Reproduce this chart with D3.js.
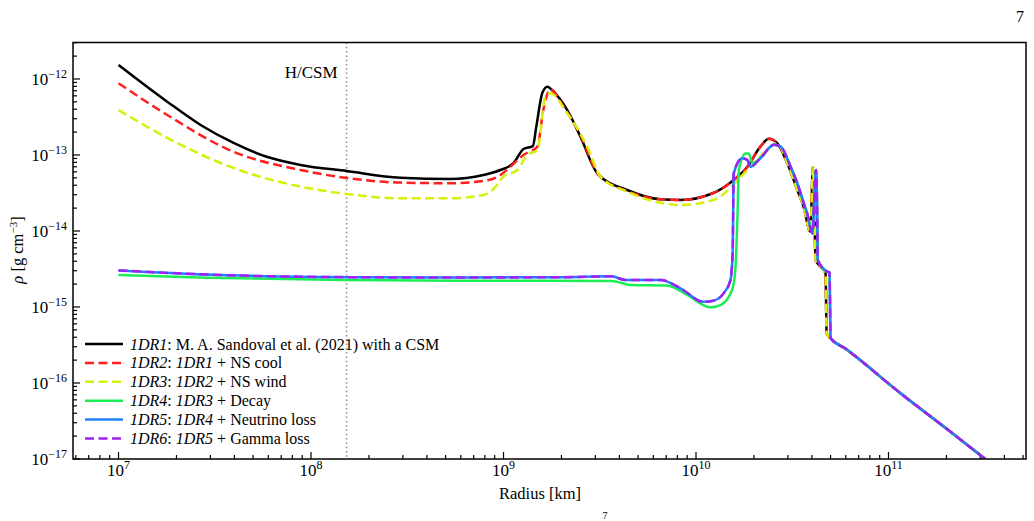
<!DOCTYPE html>
<html>
<head>
<meta charset="utf-8">
<script src="https://cdn.jsdelivr.net/npm/d3@7"></script>
<style>
body { margin: 0; background: #fff; }
svg { display: block; font-family: "Liberation Serif", "DejaVu Serif", serif; }
</style>
</head>
<body>
<div class="container"></div>
<script>
// radius [km], density [g cm^-3]
var r1 = [[1.0e7,1.53e-12],[1.79e7,5.03e-13],[2.67e7,2.48e-13],[3.96e7,1.44e-13],[5.94e7,9.4e-14],[8.82e7,7.4e-14],[1.53e8,6.15e-14],[2.92e8,5.02e-14],[5.31e8,4.83e-14],[7.87e8,5.46e-14],[9.64e8,6.35e-14],[1.13e9,7.85e-14],[1.27e9,1.2e-13],[1.42e9,1.31e-13],[1.48e9,2.35e-13],[1.59e9,6.55e-13],[1.69e9,7.92e-13],[1.82e9,6.8e-13],[2.14e9,3.91e-13],[2.51e9,1.74e-13],[3.07e9,5.74e-14],[4.39e9,3.46e-14],[6.54e9,2.61e-14],[8.3e9,2.56e-14],[1.23e10,3.16e-14],[1.57e10,4.69e-14],[1.85e10,7.02e-14],[2.16e10,1.29e-13],[2.39e10,1.63e-13],[2.64e10,1.43e-13],[2.98e10,7.79e-14],[3.36e10,3.46e-14],[3.62e10,2.09e-14],[3.93e10,9.8e-15],[4.05e10,6.95e-14],[4.13e10,1.4e-14],[4.18e10,4.15e-15],[4.44e10,3.39e-15],[4.71e10,2.77e-15],[4.77e10,4.51e-16],[5.0e10,3.87e-16],[5.94e10,2.86e-16],[1.15e11,7.38e-17],[2.09e11,2.30e-17],[3.18e11,1.0e-17]];

var r2 = [[1.0e7,8.78e-13],[1.79e7,3.36e-13],[3.96e7,1.10e-13],[8.82e7,6.35e-14],[1.53e8,4.98e-14],[2.92e8,4.33e-14],[5.31e8,4.25e-14],[7.87e8,4.55e-14],[9.64e8,5.46e-14],[1.04e9,6.35e-14],[1.27e9,1.0e-13],[1.50e9,1.29e-13],[1.61e9,3.91e-13],[1.75e9,7.31e-13],[2.05e9,4.33e-13],[2.51e9,1.83e-13],[3.12e9,5.46e-14],[4.39e9,3.36e-14],[6.54e9,2.61e-14],[8.3e9,2.56e-14],[1.23e10,3.16e-14],[1.57e10,4.69e-14],[1.85e10,7.02e-14],[2.16e10,1.29e-13],[2.39e10,1.63e-13],[2.64e10,1.43e-13],[2.98e10,7.79e-14],[3.36e10,3.46e-14],[3.62e10,2.09e-14],[3.93e10,9.8e-15],[4.05e10,6.95e-14],[4.13e10,1.4e-14],[4.18e10,4.15e-15],[4.44e10,3.39e-15],[4.71e10,2.77e-15],[4.77e10,4.51e-16],[5.0e10,3.87e-16],[5.94e10,2.86e-16],[1.15e11,7.38e-17],[2.09e11,2.30e-17],[3.18e11,1.0e-17]];

var r3 = [[1.0e7,3.91e-13],[1.79e7,1.68e-13],[3.96e7,6.74e-14],[8.82e7,3.83e-14],[1.53e8,3.07e-14],[2.92e8,2.69e-14],[5.31e8,2.69e-14],[7.87e8,2.98e-14],[8.9e8,3.6e-14],[1.0e9,5.2e-14],[1.18e9,6.35e-14],[1.33e9,1.0e-13],[1.50e9,1.16e-13],[1.65e9,5.85e-13],[1.75e9,6.48e-13],[2.14e9,3.57e-13],[2.72e9,1.29e-13],[3.19e9,5.18e-14],[4.39e9,3.29e-14],[6.54e9,2.35e-14],[8.3e9,2.2e-14],[1.23e10,2.56e-14],[1.85e10,6.35e-14],[2.34e10,1.16e-13],[2.64e10,1.43e-13],[2.98e10,7.79e-14],[3.36e10,3.46e-14],[3.62e10,2.09e-14],[3.93e10,9.8e-15],[4.05e10,6.95e-14],[4.13e10,1.4e-14],[4.18e10,4.15e-15],[4.44e10,3.39e-15],[4.71e10,2.77e-15],[4.77e10,4.51e-16],[5.0e10,3.87e-16],[5.94e10,2.86e-16],[1.15e11,7.38e-17],[2.09e11,2.30e-17],[3.18e11,1.0e-17]];

var r4 = [[1.0e7,2.64e-15],[2.90e7,2.43e-15],[1.53e8,2.27e-15],[5.77e8,2.22e-15],[3.64e9,2.2e-15],[4.6e9,1.95e-15],[7.08e9,1.92e-15],[8.99e9,1.44e-15],[1.19e10,9.9e-16],[1.34e10,1.06e-15],[1.54e10,1.67e-15],[1.60e10,3.07e-15],[1.64e10,1.4e-14],[1.67e10,6.35e-14],[1.81e10,1.05e-13],[1.88e10,1.05e-13],[1.96e10,7.79e-14],[2.16e10,9.06e-14],[2.54e10,1.36e-13],[2.75e10,1.29e-13],[3.10e10,7.02e-14],[3.36e10,4.25e-14],[3.63e10,2.31e-14],[3.78e10,1.71e-14],[4.02e10,9.33e-15],[4.21e10,6.35e-14],[4.26e10,1.71e-14],[4.29e10,4.15e-15],[4.81e10,2.91e-15],[4.94e10,2.84e-15],[5.0e10,3.91e-16],[5.94e10,2.86e-16],[1.15e11,7.38e-17],[2.09e11,2.30e-17],[3.18e11,1.0e-17]];

var r5 = [[1.0e7,3.03e-15],[2.90e7,2.67e-15],[1.53e8,2.47e-15],[5.77e8,2.44e-15],[2.07e9,2.47e-15],[3.64e9,2.53e-15],[4.31e9,2.26e-15],[6.55e9,2.26e-15],[8.3e9,1.76e-15],[1.09e10,1.17e-15],[1.23e10,1.21e-15],[1.39e10,1.51e-15],[1.51e10,2.26e-15],[1.55e10,5.09e-15],[1.57e10,5.74e-14],[1.74e10,9.06e-14],[1.85e10,8.6e-14],[1.92e10,7.02e-14],[2.16e10,9.06e-14],[2.54e10,1.36e-13],[2.75e10,1.29e-13],[3.10e10,7.02e-14],[3.36e10,4.25e-14],[3.63e10,2.31e-14],[3.78e10,1.71e-14],[4.02e10,9.33e-15],[4.21e10,6.35e-14],[4.26e10,1.71e-14],[4.29e10,4.15e-15],[4.81e10,2.91e-15],[4.94e10,2.84e-15],[5.0e10,3.91e-16],[5.94e10,2.86e-16],[1.15e11,7.38e-17],[2.09e11,2.30e-17],[3.18e11,1.0e-17]];

var r6 = r5;

var seriesNames = ["1DR1", "1DR2", "1DR3", "1DR4", "1DR5", "1DR6"];
var seriesColors = ["#000000", "#ff1f1f", "#d6f00a", "#1bee55", "#1e80ff", "#a020f5"];
var seriesDashed = [false, true, true, false, false, true];
var legendLabels = [
	[["1DR1", true], [": M. A. Sandoval et al. (2021) with a CSM", false]],
	[["1DR2", true], [": ", false], ["1DR1", true], [" + NS cool", false]],
	[["1DR3", true], [": ", false], ["1DR2", true], [" + NS wind", false]],
	[["1DR4", true], [": ", false], ["1DR3", true], [" + Decay", false]],
	[["1DR5", true], [": ", false], ["1DR4", true], [" + Neutrino loss", false]],
	[["1DR6", true], [": ", false], ["1DR5", true], [" + Gamma loss", false]]
];
var xTickExps = [7, 8, 9, 10, 11];
var yTickExps = [-17, -16, -15, -14, -13, -12];
var hcsmRadius = 1.53e8;

var WIDTH = 1034, HEIGHT = 521;
var LEFT = 73, RIGHT = 1026, TOP = 42.5, BOTTOM = 459;

var xScale = d3.scaleLog().domain([Math.pow(10, 6.7635), Math.pow(10, 11.7143)]).range([LEFT, RIGHT]);
var yScale = d3.scaleLog().domain([1e-17, Math.pow(10, -11.52)]).range([BOTTOM, TOP]);

var svg = d3.select('.container').append('svg')
	.attr('width', WIDTH)
	.attr('height', HEIGHT);

svg.append('clipPath').attr('id', 'plotclip')
	.append('rect')
	.attr('x', LEFT).attr('y', TOP)
	.attr('width', RIGHT - LEFT).attr('height', BOTTOM - TOP);

// minor + major tick positions
var minorTicks = function(scale, lo, hi) {
	var out = [];
	for (var e = lo; e <= hi; e++) {
		for (var m = 1; m < 10; m++) {
			var v = m * Math.pow(10, e);
			var d = scale.domain();
			if (v >= d[0] && v <= d[1]) out.push({v: v, major: m === 1});
		}
	}
	return out;
}

var xt = minorTicks(xScale, 6, 11);
svg.append('g').selectAll('line').data(xt).enter().append('line')
	.attr('x1', function(d) {return xScale(d.v)})
	.attr('x2', function(d) {return xScale(d.v)})
	.attr('y1', BOTTOM)
	.attr('y2', function(d) {return BOTTOM - (d.major ? 7 : 4)})
	.attr('stroke', '#000').attr('stroke-width', 1.2);

var yt = minorTicks(yScale, -17, -12);
svg.append('g').selectAll('line').data(yt).enter().append('line')
	.attr('y1', function(d) {return yScale(d.v)})
	.attr('y2', function(d) {return yScale(d.v)})
	.attr('x1', LEFT)
	.attr('x2', function(d) {return LEFT + (d.major ? 7 : 4)})
	.attr('stroke', '#000').attr('stroke-width', 1.2);

// tick labels
var xl = svg.append('g').selectAll('text').data(xTickExps).enter().append('text')
	.attr('x', function(d) {return xScale(Math.pow(10, d))})
	.attr('y', 476)
	.attr('text-anchor', 'middle')
	.attr('font-size', 17);
xl.append('tspan').text('10');
xl.append('tspan').attr('dy', -7).attr('font-size', 12).text(function(d) {return d});

var yl = svg.append('g').selectAll('text').data(yTickExps).enter().append('text')
	.attr('x', 67)
	.attr('y', function(d) {return yScale(Math.pow(10, d)) + 6})
	.attr('text-anchor', 'end')
	.attr('font-size', 17);
yl.append('tspan').text('10');
yl.append('tspan').attr('dy', -7).attr('font-size', 12).text(function(d) {return '\u2212' + Math.abs(d)});

// H/CSM marker
svg.append('line')
	.attr('x1', xScale(hcsmRadius)).attr('x2', xScale(hcsmRadius))
	.attr('y1', TOP).attr('y2', BOTTOM)
	.attr('stroke', '#888').attr('stroke-width', 1.5)
	.attr('stroke-dasharray', '1.5,2.8');
svg.append('text')
	.attr('x', xScale(hcsmRadius) - 9).attr('y', 78)
	.attr('text-anchor', 'end').attr('font-size', 17)
	.text('H/CSM');

// curves
var allSeries = [r1, r2, r3, r4, r5, r6];
var line = d3.line()
	.curve(d3.curveMonotoneX)
	.x(function(d) {return xScale(d[0])})
	.y(function(d) {return yScale(d[1])});

var plot = svg.append('g').attr('clip-path', 'url(#plotclip)');
plot.selectAll('path').data(allSeries).enter().append('path')
	.attr('d', line)
	.attr('fill', 'none')
	.attr('stroke', function(d, i) {return seriesColors[i]})
	.attr('stroke-width', 2.5)
	.attr('stroke-dasharray', function(d, i) {return seriesDashed[i] ? '9,4.5' : null});

// legend
var legend = svg.append('g').attr('transform', 'translate(85,344)');
var rows = legend.selectAll('g').data(seriesNames).enter().append('g')
	.attr('transform', function(d, i) {return 'translate(0,' + (i * 18.9) + ')'});
rows.append('line')
	.attr('x1', 0).attr('x2', 38).attr('y1', 0).attr('y2', 0)
	.attr('stroke', function(d, i) {return seriesColors[i]})
	.attr('stroke-width', 2.5)
	.attr('stroke-dasharray', function(d, i) {return seriesDashed[i] ? '9,4.5' : null});
var lt = rows.append('text')
	.attr('x', 45).attr('y', 5.5)
	.attr('font-size', 16);
lt.each(function(d, i) {
	var t = d3.select(this);
	legendLabels[i].forEach(function(p) {
		t.append('tspan').attr('font-style', p[1] ? 'italic' : 'normal').text(p[0]);
	});
});

// frame
svg.append('rect')
	.attr('x', LEFT).attr('y', TOP)
	.attr('width', RIGHT - LEFT).attr('height', BOTTOM - TOP)
	.attr('fill', 'none').attr('stroke', '#000').attr('stroke-width', 1.5);

// axis titles
svg.append('text')
	.attr('x', 540).attr('y', 499)
	.attr('text-anchor', 'middle').attr('font-size', 16.5)
	.text('Radius [km]');

var yt2 = svg.append('text')
	.attr('transform', 'translate(23,250) rotate(-90)')
	.attr('text-anchor', 'middle').attr('font-size', 16.5);
yt2.append('tspan').attr('font-style', 'italic').text('\u03c1');
yt2.append('tspan').text(' [g cm');
yt2.append('tspan').attr('dy', -6).attr('font-size', 11).text('\u22123');
yt2.append('tspan').attr('dy', 6).text(']');

// page furniture
svg.append('text').attr('x', 1024).attr('y', 22).attr('text-anchor', 'end').attr('font-size', 16).text('7');
svg.append('text').attr('x', 605).attr('y', 519).attr('text-anchor', 'middle').attr('font-size', 10).text('7');
</script>
</body>
</html>
